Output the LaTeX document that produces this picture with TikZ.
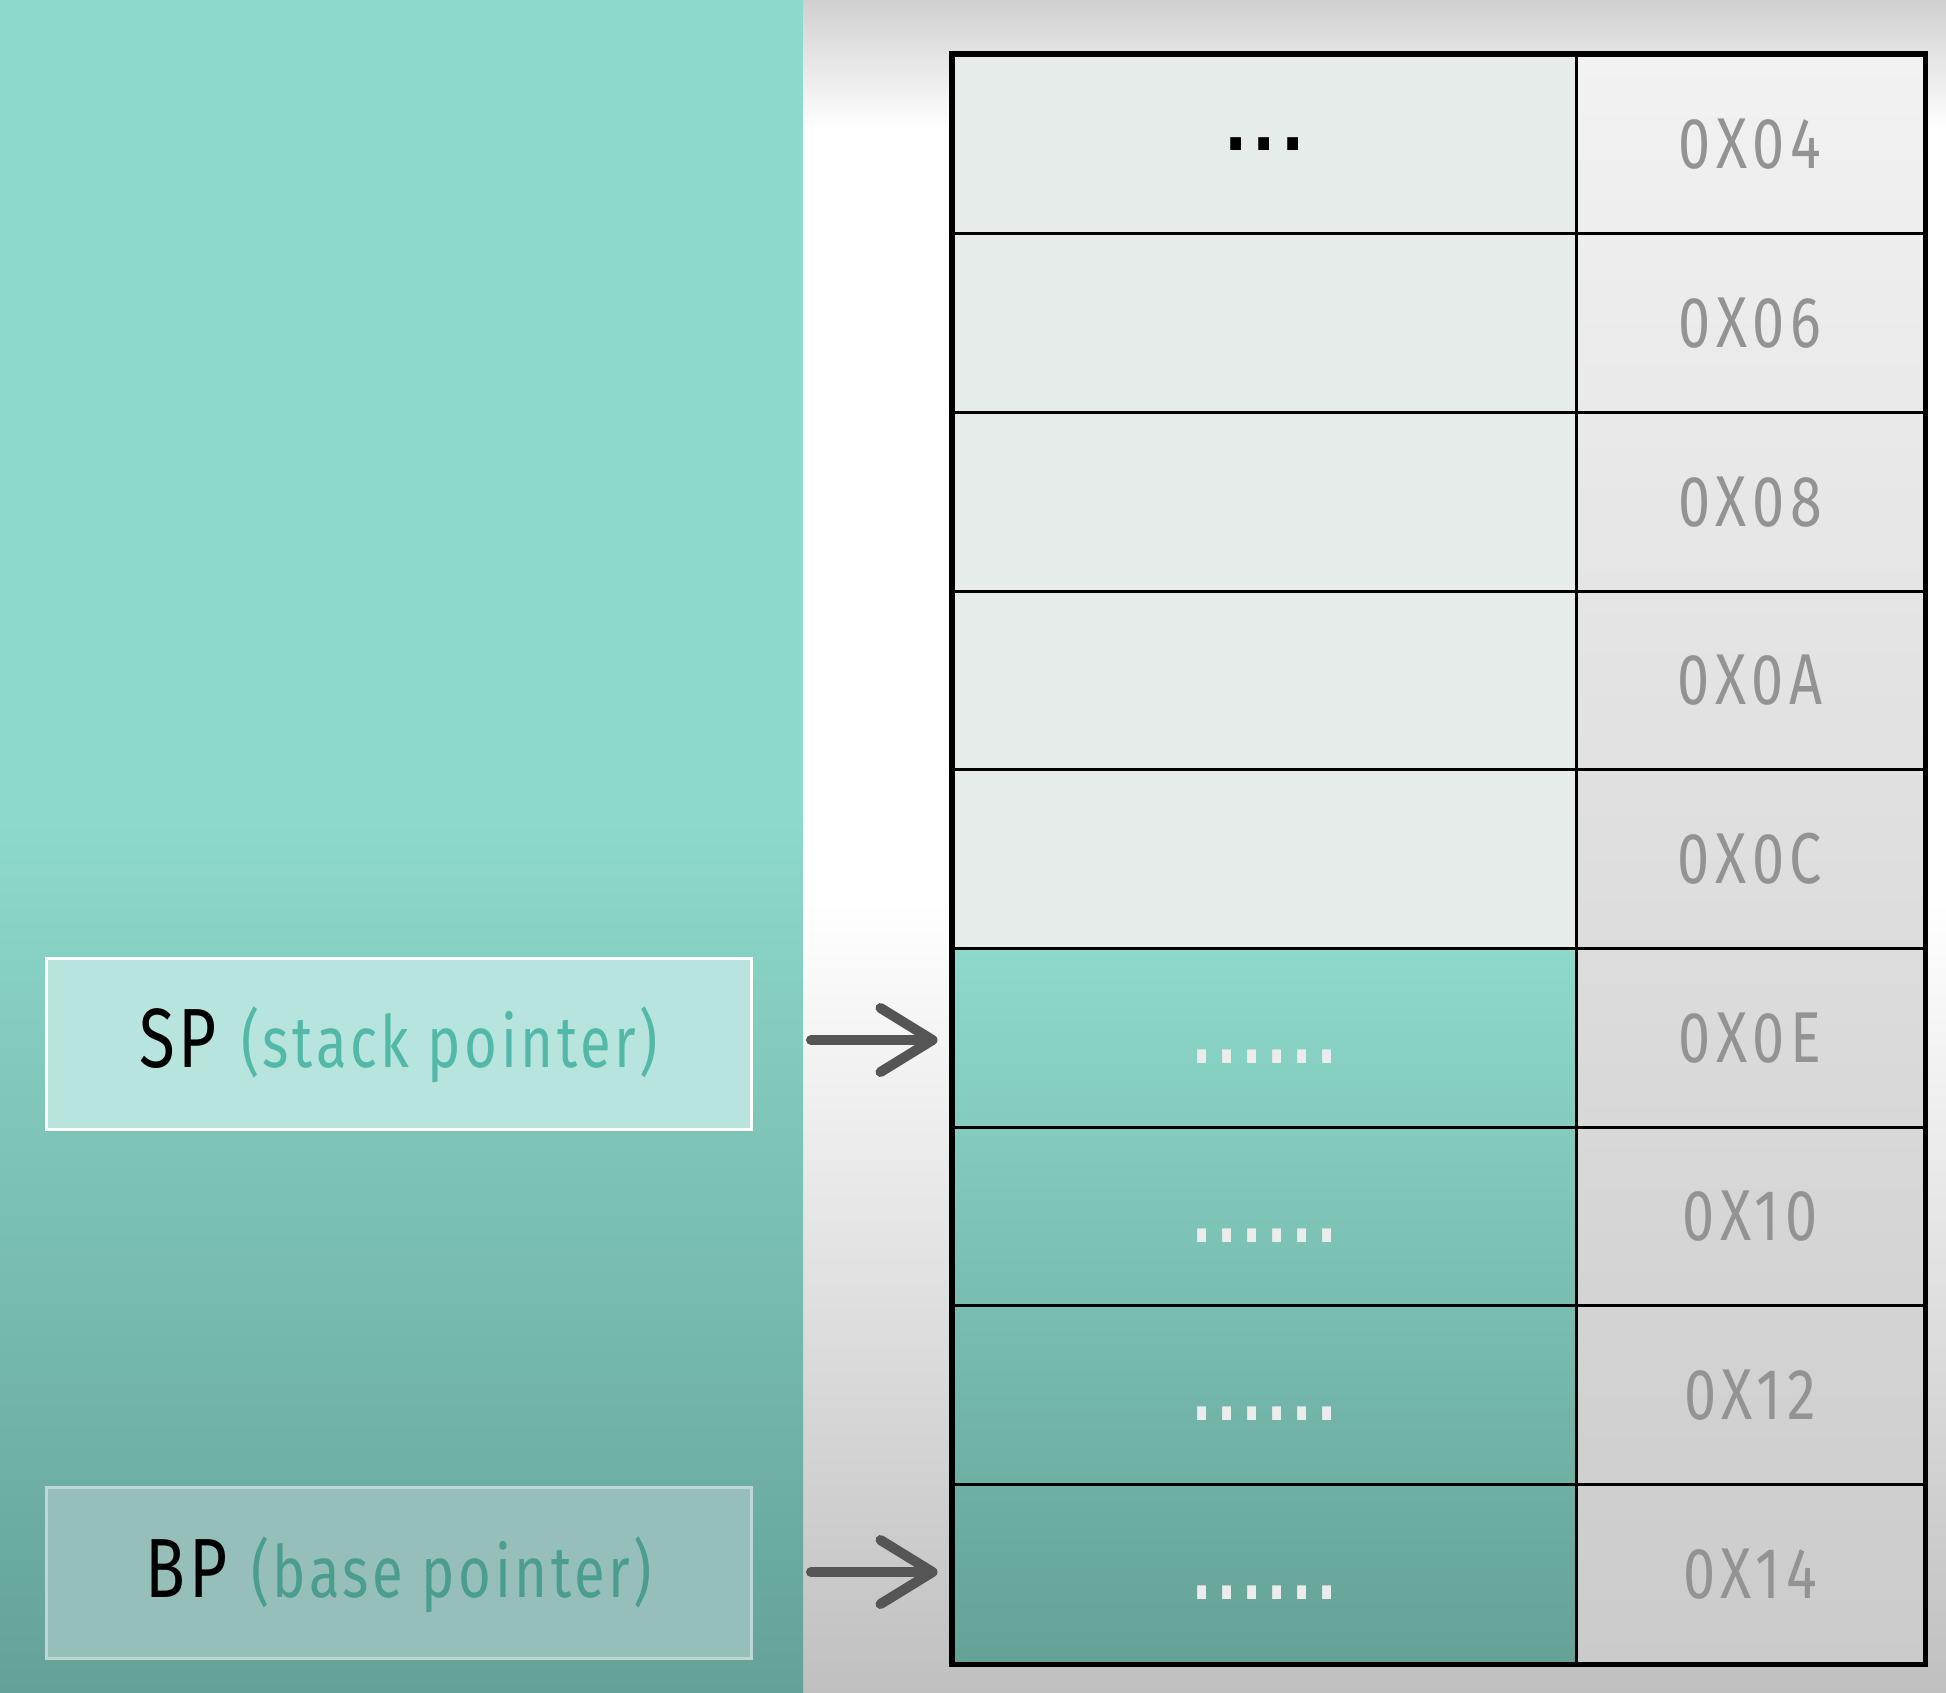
\documentclass[tikz,border=0pt]{standalone}
\usepackage{fontspec}
\setmainfont{Fira Sans}
\newfontfamily\lblfont[FakeStretch=0.78,LetterSpace=5]{Fira Sans}
\newfontfamily\addrfont[FakeStretch=0.8,LetterSpace=8]{Fira Sans}
\newfontfamily\dotfont[FakeStretch=0.7,LetterSpace=8]{DejaVu Sans Bold}
\newfontfamily\topdotfont[FakeStretch=0.9,LetterSpace=8]{DejaVu Sans Bold}
\usetikzlibrary{arrows.meta}
\definecolor{tealtop}{HTML}{8DD9CB}
\definecolor{tealbot}{HTML}{64A295}
\definecolor{bgtop}{HTML}{D0D0D0}
\definecolor{bgbot}{HTML}{C0C0C0}
\definecolor{lightcell}{HTML}{E6ECEA}
\definecolor{addrtop}{HTML}{F2F2F2}
\definecolor{addrbot}{HTML}{CBCBCB}
\definecolor{addrtext}{HTML}{939393}
\definecolor{spfill}{HTML}{B7E4DD}
\definecolor{bpfill}{HTML}{97BFB9}
\definecolor{bpborder}{HTML}{BDD7D3}
\definecolor{sptealtext}{HTML}{52B8A7}
\definecolor{bptealtext}{HTML}{4A9D8F}
\definecolor{arrowgray}{HTML}{555555}
\definecolor{dotwhite}{HTML}{ECECEC}
\begin{document}
\begin{tikzpicture}[x=0.5pt,y=-0.5pt,
  cellL/.style={draw=black,line width=1.5pt,rectangle,inner sep=0pt,minimum width=311.5pt,minimum height=89.33pt},
  cellR/.style={draw=black,line width=1.5pt,rectangle,inner sep=0pt,minimum width=174pt,minimum height=89.33pt,text=addrtext,font=\addrfont\fontsize{36}{36}\selectfont},
  ptrbox/.style={rectangle,inner sep=0pt,line width=1.5pt,minimum width=352.5pt,minimum height=85.5pt},
  ptrtext/.style={anchor=base,inner sep=0pt,font=\lblfont\fontsize{42}{42}\selectfont},
  dotw/.style={inner sep=0pt,text=dotwhite,font=\dotfont\fontsize{36}{36}\selectfont},
  dotb/.style={inner sep=0pt,text=black,font=\topdotfont\fontsize{34}{34}\selectfont},
  ptrarrow/.style={draw=arrowgray,line width=5pt,line cap=round,-{Straight Barb[length=26pt,width=32pt,round]},shorten >=7pt}
]
\useasboundingbox (0,0) rectangle (1946,1692);
% backgrounds
\fill[white] (0,0) rectangle (1946,1692);
\shade[top color=bgtop,bottom color=white] (803,0) rectangle (1946,130);
\shade[top color=white,bottom color=bgbot] (803,900) rectangle (1946,1692);
\fill[tealtop] (0,0) rectangle (803,820);
\shade[top color=tealtop,bottom color=tealbot] (0,820) rectangle (803,1692);
% table fills
\fill[lightcell] (953,55) rectangle (1576,948.35);
\shade[top color=tealtop,bottom color=tealbot] (953,948.35) rectangle (1576,1663);
\shade[top color=addrtop,bottom color=addrbot] (1576,55) rectangle (1924,1663);
% cells
\foreach \i/\a in {0/04,1/06,2/08,3/0A,4/0C,5/0E,6/10,7/12,8/14}{
  \node[cellL] (L\i) at (1264.5,{55+178.67*\i+89.33}) {};
  \node[cellR] (R\i) at (1750,{55+178.67*\i+89.33}) {0X\a};
}
\draw[line width=2.2pt] (L0.north west) rectangle (R8.south east);
% dots
\node[dotb] (d0) at (L0.center) {...};
\foreach \i in {5,6,7,8}{
  \node[dotw] (d\i) at ([yshift=-9.5pt]L\i.center) {......};
}
% pointer boxes
\node[ptrbox,fill=spfill,draw=white] (spbox) at (398.5,1043.5) {};
\node[ptrtext] (sptext) at (398.5,1067) {SP\hspace{12pt}{\color{sptealtext}\fontsize{36}{36}\selectfont(stack pointer)}};
\node[ptrbox,fill=bpfill,draw=bpborder] (bpbox) at (398.5,1573) {};
\node[ptrtext] (bptext) at (398.5,1597) {BP\hspace{12pt}{\color{bptealtext}\fontsize{36}{36}\selectfont(base pointer)}};
% arrows
\coordinate (spstart) at (811,1040);
\coordinate (bpstart) at (811,1572);
\draw[ptrarrow] (spstart) -- (spstart -| L5.west);
\draw[ptrarrow] (bpstart) -- (bpstart -| L8.west);
\end{tikzpicture}
\end{document}
